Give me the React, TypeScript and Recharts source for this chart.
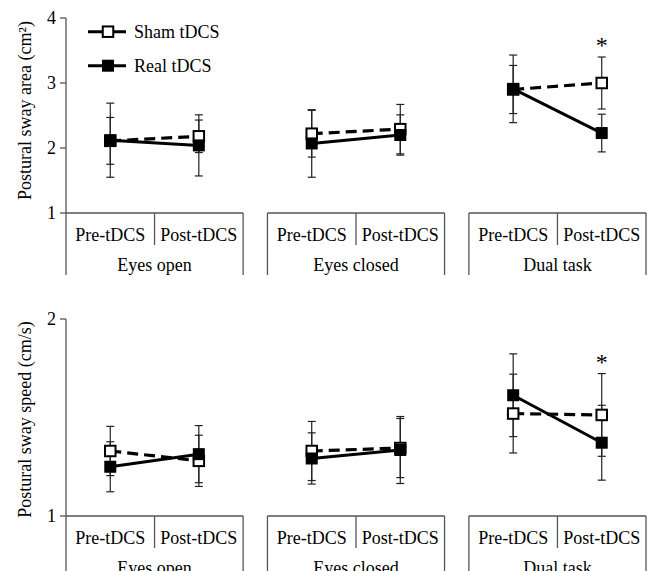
import React from 'react';
import { LineChart, Line, XAxis, YAxis, ErrorBar, ReferenceLine, ReferenceDot, Legend } from 'recharts';

const FONT = 'Liberation Serif';
const FS = 18;
const AXIS = '#555555';

// ---- data ----
const conditions = ['Eyes open', 'Eyes closed', 'Dual task'];
const phases = ['Pre-tDCS', 'Post-tDCS'];
const seriesNames = ['Sham tDCS', 'Real tDCS'];

const areaSham = [2.11, 2.18, 2.22, 2.29, 2.9, 3.0];
const areaReal = [2.12, 2.04, 2.07, 2.2, 2.91, 2.23];
const areaShamErr = [0.36, 0.25, 0.36, 0.38, 0.37, 0.4];
const areaRealErr = [0.57, 0.47, 0.52, 0.31, 0.52, 0.29];
const areaSig = ['', '', '', '', '', '*'];
const areaTicks = [1, 2, 3, 4];

const speedSham = [1.33, 1.28, 1.33, 1.345, 1.52, 1.513];
const speedReal = [1.25, 1.314, 1.292, 1.335, 1.613, 1.372];
const speedShamErr = [0.125, 0.13, 0.15, 0.15, 0.2, 0.21];
const speedRealErr = [0.127, 0.145, 0.13, 0.17, 0.21, 0.19];
const speedSig = ['', '', '', '', '', '*'];
const speedTicks = [1, 2];

// ---- layout of the grouped numeric x axis ----
const GROUP_W = 4;
const GAP = 0.55;
const groupStart = (gi: number) => gi * (GROUP_W + GAP);
const X_MAX = groupStart(conditions.length - 1) + GROUP_W;

type TickInfo = { pos: number; kind: 'edge' | 'mid' | 'phase'; label: string };
const tickInfo: TickInfo[] = [];
conditions.forEach((c, gi) => {
  const s = groupStart(gi);
  tickInfo.push({ pos: s, kind: 'edge', label: '' });
  tickInfo.push({ pos: s + 1, kind: 'phase', label: phases[0] });
  tickInfo.push({ pos: s + 2, kind: 'mid', label: c });
  tickInfo.push({ pos: s + 3, kind: 'phase', label: phases[1] });
  tickInfo.push({ pos: s + GROUP_W, kind: 'edge', label: '' });
});
const xTicks = tickInfo.map((t) => t.pos);

function buildRows(sham: number[], real: number[], shamErr: number[], realErr: number[], sig: string[]) {
  const rows: any[] = [];
  conditions.forEach((_, gi) => {
    const s = groupStart(gi);
    phases.forEach((__, pi) => {
      const i = gi * phases.length + pi;
      rows.push({ x: s + 1 + 2 * pi, sham: sham[i], real: real[i], shamErr: shamErr[i], realErr: realErr[i], sig: sig[i] });
    });
    rows.push({ x: s + GROUP_W - 0.01, sham: null, real: null });
  });
  return rows;
}

const makeTick = (edgeLen: number) => (props: any) => {
  const { x, y, payload } = props;
  const info = tickInfo.find((t) => Math.abs(t.pos - payload.value) < 1e-6);
  if (!info) return <g />;
  if (info.kind === 'edge') {
    return <line x1={x} y1={y} x2={x} y2={y + edgeLen} stroke={AXIS} strokeWidth={1.3} />;
  }
  if (info.kind === 'mid') {
    return (
      <g>
        <line x1={x} y1={y} x2={x} y2={y + 32} stroke={AXIS} strokeWidth={1.3} />
        <text x={x} y={y + 52} textAnchor="middle" dominantBaseline="central" style={{ fontFamily: FONT }} fontSize={FS} fill="#000">
          {info.label}
        </text>
      </g>
    );
  }
  return (
    <text x={x} y={y + 22} textAnchor="middle" dominantBaseline="central" style={{ fontFamily: FONT }} fontSize={FS} fill="#000">
      {info.label}
    </text>
  );
};

const squareDot = (filled: boolean) => (props: any) => {
  const { cx, cy, index } = props;
  if (cx == null || cy == null || Number.isNaN(cy)) return <g key={`e${index}`} />;
  const s = filled ? 12 : 10.5;
  return (
    <rect
      key={`d${index}`}
      x={cx - s / 2}
      y={cy - s / 2}
      width={s}
      height={s}
      fill={filled ? '#000' : '#fff'}
      stroke="#000"
      strokeWidth={filled ? 0 : 2}
    />
  );
};

const LegendContent = () => (
  <svg width={170} height={70} style={{ display: 'block', overflow: 'visible' }}>
    {seriesNames.map((name, i) => {
      const cy = 16.7 + i * 34;
      const filled = i === 1;
      return (
        <g key={name}>
          <line x1={8} y1={cy} x2={46} y2={cy} stroke="#000" strokeWidth={3} />
          <rect
            x={filled ? 22 : 22.75}
            y={filled ? cy - 6 : cy - 5.25}
            width={filled ? 12 : 10.5}
            height={filled ? 12 : 10.5}
            fill={filled ? '#000' : '#fff'}
            stroke="#000"
            strokeWidth={filled ? 0 : 2}
          />
          <text x={54} y={cy} dominantBaseline="central" style={{ fontFamily: FONT }} fontSize={FS} fill="#000">
            {name}
          </text>
        </g>
      );
    })}
  </svg>
);

type PanelProps = {
  width: number;
  height: number;
  top: number;
  xAxisHeight: number;
  edgeLen: number;
  title: string;
  titleShift: number;
  yTicks: number[];
  sham: number[];
  real: number[];
  shamErr: number[];
  realErr: number[];
  sig: string[];
  legend: boolean;
};

function Panel(p: PanelProps) {
  const rows = buildRows(p.sham, p.real, p.shamErr, p.realErr, p.sig);
  const yMin = p.yTicks[0];
  const yMax = p.yTicks[p.yTicks.length - 1];
  const yTitle = (lp: any) => {
    const vb = lp.viewBox || {};
    const cx = (vb.x ?? 0) + 25;
    const cy = (vb.y ?? 0) + (vb.height ?? 0) / 2 + p.titleShift;
    return (
      <text x={cx} y={cy} transform={`rotate(-90 ${cx} ${cy})`} textAnchor="middle" dominantBaseline="central" style={{ fontFamily: FONT }} fontSize={FS} fill="#000">
        {p.title}
      </text>
    );
  };
  return (
    <LineChart width={p.width} height={p.height} data={rows} margin={{ top: p.top, right: 5, left: 0, bottom: 0 }} style={{ fontFamily: FONT }}>
      <XAxis
        type="number"
        dataKey="x"
        domain={[0, X_MAX]}
        ticks={xTicks}
        interval={0}
        axisLine={false}
        tickLine={false}
        tickSize={0}
        tickMargin={0}
        height={p.xAxisHeight}
        tick={makeTick(p.edgeLen)}
        allowDataOverflow
      />
      <YAxis
        type="number"
        domain={[yMin, yMax]}
        ticks={p.yTicks}
        width={66}
        axisLine={{ stroke: AXIS, strokeWidth: 1.3 }}
        tickLine={{ stroke: AXIS, strokeWidth: 1.3 }}
        tickSize={6}
        tickMargin={4}
        tick={{ fill: '#000', fontSize: FS, style: { fontFamily: FONT } }}
        label={yTitle}
        allowDataOverflow
      />
      {conditions.map((c, gi) => (
        <ReferenceLine
          key={c}
          segment={[
            { x: groupStart(gi), y: yMin },
            { x: groupStart(gi) + GROUP_W, y: yMin },
          ]}
          stroke={AXIS}
          strokeWidth={1.3}
          ifOverflow="visible"
        />
      ))}
      <Line
        type="linear"
        dataKey="sham"
        name={seriesNames[0]}
        stroke="#000"
        strokeWidth={3.2}
        strokeDasharray="11 6"
        dot={squareDot(false)}
        activeDot={false}
        isAnimationActive={false}
        connectNulls={false}
      >
        <ErrorBar dataKey="shamErr" direction="y" width={4} stroke="#222" strokeWidth={1.2} />
      </Line>
      <Line
        type="linear"
        dataKey="real"
        name={seriesNames[1]}
        stroke="#000"
        strokeWidth={3}
        dot={squareDot(true)}
        activeDot={false}
        isAnimationActive={false}
        connectNulls={false}
      >
        <ErrorBar dataKey="realErr" direction="y" width={4} stroke="#222" strokeWidth={1.2} />
      </Line>
      {rows
        .filter((r) => r.sig)
        .map((r) => (
          <ReferenceDot
            key={`sig${r.x}`}
            x={r.x}
            y={Math.max(r.sham + r.shamErr, r.real + r.realErr)}
            r={0}
            ifOverflow="visible"
            label={(lp: any) => {
              const vb = lp.viewBox || {};
              return (
                <text x={vb.x} y={(vb.y ?? 0) - 4} textAnchor="middle" style={{ fontFamily: FONT }} fontSize={24} fill="#000">
                  {r.sig}
                </text>
              );
            }}
          />
        ))}
      {p.legend && (
        <Legend
          layout="vertical"
          align="center"
          verticalAlign="middle"
          content={LegendContent}
          wrapperStyle={{ left: 80, top: 15, width: 170, height: 70 }}
        />
      )}
    </LineChart>
  );
}

export default function App() {
  return (
    <div style={{ position: 'absolute', left: 0, top: 0, width: 651, height: 571, overflow: 'hidden', background: '#fff', fontFamily: FONT }}>
      <div style={{ position: 'absolute', left: 0, top: 0 }}>
        <Panel
          width={651}
          height={290}
          top={18}
          xAxisHeight={77}
          edgeLen={62}
          title="Postural sway area (cm²)"
          titleShift={-5}
          yTicks={areaTicks}
          sham={areaSham}
          real={areaReal}
          shamErr={areaShamErr}
          realErr={areaRealErr}
          sig={areaSig}
          legend
        />
      </div>
      <div style={{ position: 'absolute', left: 0, top: 290 }}>
        <Panel
          width={651}
          height={281}
          top={29}
          xAxisHeight={55}
          edgeLen={70}
          title="Postural sway speed (cm/s)"
          titleShift={2}
          yTicks={speedTicks}
          sham={speedSham}
          real={speedReal}
          shamErr={speedShamErr}
          realErr={speedRealErr}
          sig={speedSig}
          legend={false}
        />
      </div>
    </div>
  );
}
